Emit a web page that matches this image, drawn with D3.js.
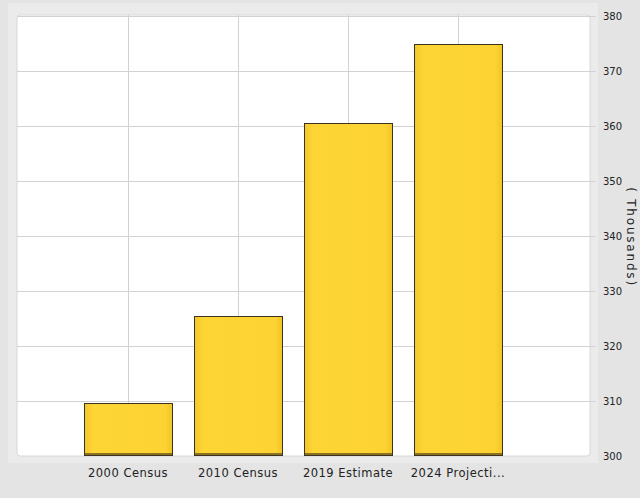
<!DOCTYPE html>
<html>
<head>
<meta charset="utf-8">
<script src="https://cdn.jsdelivr.net/npm/d3@7/dist/d3.min.js"></script>
<style>
  body { margin: 0; background: #e4e4e4; }
  svg { display: block; }
  text { font-family: "DejaVu Sans", Verdana, sans-serif; fill: #222; }
</style>
</head>
<body>
<svg id="chart" width="640" height="498"></svg>
<script>
// data (thousands)
var categories = ["2000 Census", "2010 Census", "2019 Estimate", "2024 Projecti..."];
var values = [309.6, 325.5, 360.6, 375.0];
var yTicks = [300, 310, 320, 330, 340, 350, 360, 370, 380];
var unitLabel = "( Thousands)";

var svg = d3.select("#chart");
var plot = {left: 17, right: 590, top: 15, bottom: 456};

// outer light panel and white plot area
svg.append("rect")
	.attr("x", 8).attr("y", 3)
	.attr("width", 590).attr("height", 460)
	.attr("fill", "#ebebeb");
svg.append("rect")
	.attr("x", plot.left).attr("y", plot.top)
	.attr("width", plot.right - plot.left).attr("height", plot.bottom - plot.top)
	.attr("rx", 3)
	.attr("fill", "#ffffff")
	.attr("stroke", "#d8d8d8");

var x = d3.scaleBand()
	.domain(categories)
	.range([73, 513])
	.paddingInner(0.2)
	.paddingOuter(0.1);
var y = d3.scaleLinear()
	.domain([300, 380])
	.range([plot.bottom, 16]);

// gridlines
svg.append("g").selectAll("line.h")
	.data(yTicks.slice(1))
	.enter().append("line")
	.attr("x1", plot.left).attr("x2", plot.right + 6)
	.attr("y1", function(d){ return Math.round(y(d)) + 0.5; })
	.attr("y2", function(d){ return Math.round(y(d)) + 0.5; })
	.attr("stroke", "#d2d2d2");
svg.append("g").selectAll("line.v")
	.data(categories)
	.enter().append("line")
	.attr("x1", function(d){ return Math.round(x(d) + x.bandwidth()/2) + 0.5; })
	.attr("x2", function(d){ return Math.round(x(d) + x.bandwidth()/2) + 0.5; })
	.attr("y1", plot.top).attr("y2", plot.bottom)
	.attr("stroke", "#d2d2d2");

// bars
var defs = svg.append("defs");
var grad = defs.append("linearGradient").attr("id", "barFill")
	.attr("x1", 0).attr("x2", 1).attr("y1", 0).attr("y2", 0);
grad.append("stop").attr("offset", "0%").attr("stop-color", "#f3c62a");
grad.append("stop").attr("offset", "10%").attr("stop-color", "#fdd535");
grad.append("stop").attr("offset", "92%").attr("stop-color", "#fcd332");
grad.append("stop").attr("offset", "100%").attr("stop-color", "#f0c426");

var bars = svg.append("g").selectAll("g.bar")
	.data(categories)
	.enter().append("g");
bars.append("rect")
	.attr("x", function(d){ return Math.round(x(d)) + 0.5; })
	.attr("y", function(d, i){ return Math.round(y(values[i])) + 0.5; })
	.attr("width", Math.round(x.bandwidth()))
	.attr("height", function(d, i){ return plot.bottom - Math.round(y(values[i])) - 1; })
	.attr("fill", "url(#barFill)")
	.attr("stroke", "#3b3320");
bars.append("line")
	.attr("x1", function(d){ return Math.round(x(d)) + 1; })
	.attr("x2", function(d){ return Math.round(x(d) + x.bandwidth()); })
	.attr("y1", plot.bottom - 2).attr("y2", plot.bottom - 2)
	.attr("stroke", "#8a7020").attr("stroke-width", 2);

// category labels
svg.append("g").selectAll("text")
	.data(categories)
	.enter().append("text")
	.attr("x", function(d){ return x(d) + x.bandwidth()/2; })
	.attr("y", 477)
	.attr("text-anchor", "middle")
	.attr("font-size", "11.5px")
	.attr("letter-spacing", "0.5px")
	.text(function(d){ return d; });

// right value axis
svg.append("g").selectAll("text")
	.data(yTicks)
	.enter().append("text")
	.attr("x", 603)
	.attr("y", function(d){ return y(d) + 4; })
	.attr("font-size", "10px")
	.text(function(d){ return d; });

svg.append("text")
	.attr("transform", "translate(627,237) rotate(90)")
	.attr("text-anchor", "middle")
	.attr("font-size", "12px")
	.attr("letter-spacing", "1.8px")
	.text(unitLabel);
</script>
</body>
</html>
